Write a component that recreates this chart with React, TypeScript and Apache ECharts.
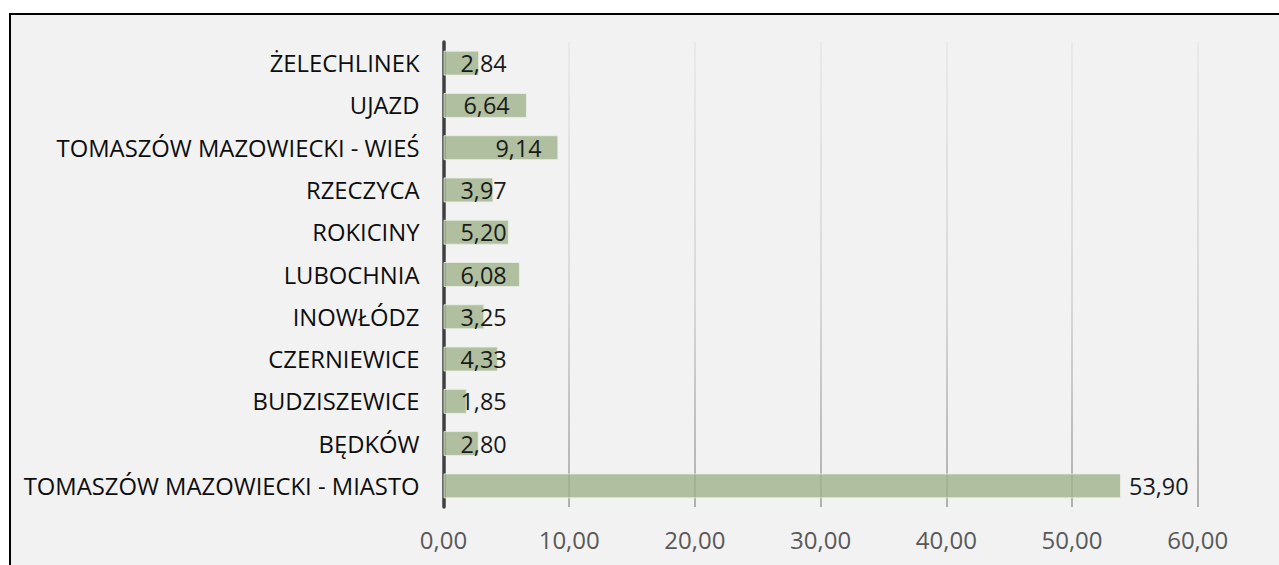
import React, { useEffect, useRef } from "react";
import * as echarts from "echarts";

const categories = [
  "ŻELECHLINEK",
  "UJAZD",
  "TOMASZÓW MAZOWIECKI - WIEŚ",
  "RZECZYCA",
  "ROKICINY",
  "LUBOCHNIA",
  "INOWŁÓDZ",
  "CZERNIEWICE",
  "BUDZISZEWICE",
  "BĘDKÓW",
  "TOMASZÓW MAZOWIECKI - MIASTO",
];
const values = [2.84, 6.64, 9.14, 3.97, 5.2, 6.08, 3.25, 4.33, 1.85, 2.8, 53.9];
const labelDistances = [17, 20, 52, 17, 17, 17, 17, 17, 17, 17, 8];
const labelPositions = ["insideLeft", "insideLeft", "insideLeft", "insideLeft", "insideLeft", "insideLeft", "insideLeft", "insideLeft", "insideLeft", "insideLeft", "right"];

const fmt = (v: number) => v.toFixed(2).replace(".", ",");

export default function App() {
  const ref = useRef<HTMLDivElement>(null);
  useEffect(() => {
    document.body.style.overflow = "hidden";
    const chart = echarts.init(ref.current!, null, { renderer: "svg" });
    const FONT = "'Open Sans'";
    chart.setOption({
      animation: false,
      backgroundColor: "#f2f2f2",
      grid: { left: 432.5, top: 27, width: 754.2, height: 465, containLabel: false },
      xAxis: {
        type: "value",
        min: 0,
        max: 60,
        interval: 10,
        axisLine: { show: false },
        axisTick: { show: false },
        axisLabel: {
          formatter: (v: number) => fmt(v),
          color: "#595959",
          fontFamily: FONT,
          fontSize: 24,
          margin: 20,
        },
        splitLine: {
          show: true,
          lineStyle: {
            width: 1.5,
            color: new echarts.graphic.LinearGradient(0, 27, 0, 492, [
              { offset: 0, color: "#e6e6e6" },
              { offset: 0.55, color: "#d0d0d0" },
              { offset: 1, color: "#999999" },
            ], true),
          },
        },
      },
      yAxis: {
        type: "category",
        data: categories,
        inverse: true,
        axisLine: { show: true, lineStyle: { color: "#404040", width: 3.5 } },
        axisTick: { show: false },
        axisLabel: {
          color: "#0d0d0d",
          fontFamily: FONT,
          fontSize: 23.8,
          margin: 24,
        },
      },
      series: [
        {
          type: "bar",
          barCategoryGap: "41%",
          z: 3,
          data: values.map((v, i) => ({
            value: v,
            label: {
              position: labelPositions[i],
              distance: labelDistances[i],
            },
          })),
          itemStyle: {
            color: "rgba(158,178,137,0.8)",
            borderColor: "rgba(235,240,230,0.8)",
            borderWidth: 1,
          },
          label: {
            show: true,
            formatter: (p: any) => fmt(p.value),
            color: "#1a1a1a",
            fontFamily: FONT,
            fontSize: 23.4,
          },
        },
      ],
    });
    return () => chart.dispose();
  }, []);
  return (
    <div
      style={{
        position: "fixed",
        left: 9,
        top: 13,
        width: 1290,
        height: 570,
        borderTop: "2px solid #000",
        borderLeft: "2px solid #000",
        background: "#f2f2f2",
      }}
    >
      <div ref={ref} style={{ width: 1290, height: 570 }} />
    </div>
  );
}
